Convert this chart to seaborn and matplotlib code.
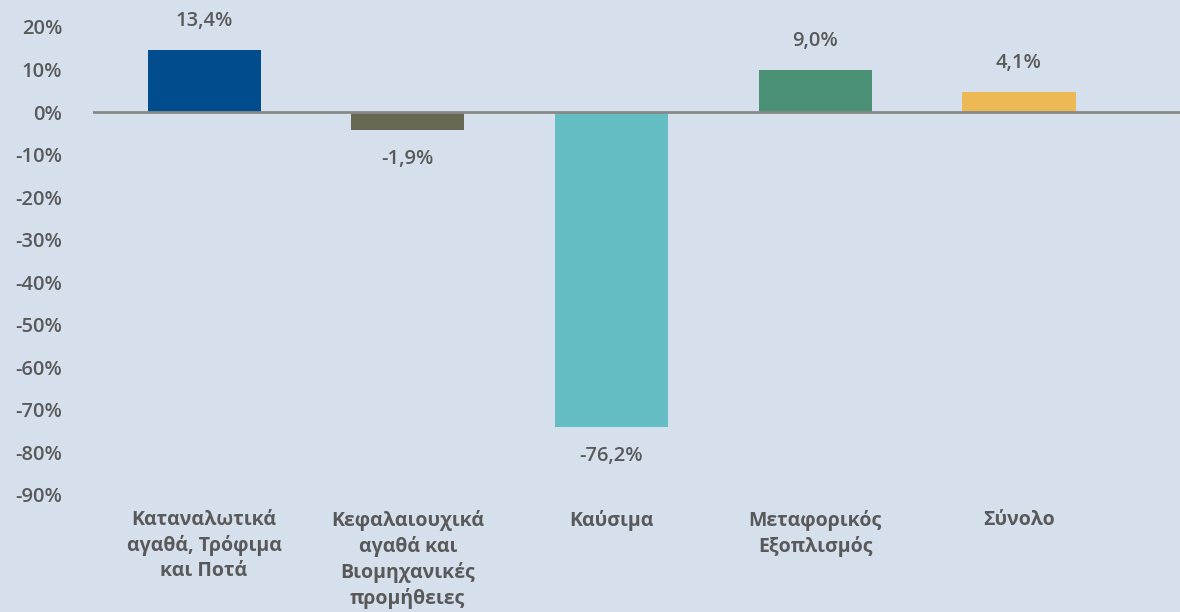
import matplotlib
matplotlib.use("Agg")
import matplotlib.pyplot as plt
import seaborn as sns
import pandas as pd

# Data
categories = [
    "Καταναλωτικά\nαγαθά, Τρόφιμα\nκαι Ποτά",
    "Κεφαλαιουχικά\nαγαθά και\nΒιομηχανικές\nπρομήθειες",
    "Καύσιμα",
    "Μεταφορικός\nΕξοπλισμός",
    "Σύνολο",
]
bar_values = [14.6, -4.2, -74.0, 9.9, 4.7]
value_labels = ["13,4%", "-1,9%", "-76,2%", "9,0%", "4,1%"]
colors = ["#004C8C", "#696852", "#64BDC2", "#4A9074", "#ECB955"]
yticks = list(range(-90, 30, 10))

BG = "#D6E0EC"
TXT = "#595959"

sns.set_theme(style="white")
plt.rcParams["font.family"] = ["Open Sans", "DejaVu Sans"]

df = pd.DataFrame({"cat": categories, "val": bar_values})

fig = plt.figure(figsize=(11.8, 6.12), dpi=100, facecolor=BG)
ax = fig.add_axes([93 / 1180, 117 / 612, 1 - 93 / 1180, 468 / 612])
ax.set_facecolor(BG)

sns.barplot(data=df, x="cat", y="val", hue="cat", palette=colors,
            legend=False, width=0.555, saturation=1, linewidth=0, ax=ax)

ax.set_xlim(-0.545, 4.79)
ax.set_ylim(-90, 20)
ax.axhline(0, color="#888888", lw=2, zorder=3)

for s in ax.spines.values():
    s.set_visible(False)

ax.set_yticks(yticks)
ax.set_yticklabels([f"{v}%" for v in yticks])
ax.tick_params(axis="both", length=0)
ax.tick_params(axis="y", pad=22)
ax.tick_params(axis="x", pad=11)
ax.set_xticks(range(len(categories)))
ax.set_xticklabels(categories)
plt.setp(ax.get_yticklabels(), fontsize=14.5, fontweight="semibold", color=TXT)
plt.setp(ax.get_xticklabels(), fontsize=14, fontweight="bold", color=TXT,
         linespacing=1.3, va="top")
ax.set_xlabel("")
ax.set_ylabel("")

# value labels
for i, (v, lab) in enumerate(zip(bar_values, value_labels)):
    off = 21 if v >= 0 else -21
    ax.annotate(lab, (i, v), xytext=(0, off), textcoords="offset points",
                ha="center", va="center", fontsize=14.5,
                fontweight="semibold", color=TXT)

plt.savefig("out.png", dpi=100, facecolor=BG)
